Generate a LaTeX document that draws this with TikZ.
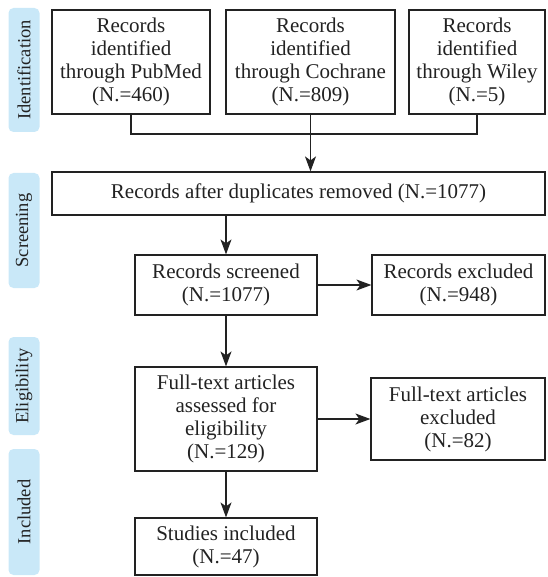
\documentclass[tikz,border=0pt]{standalone}
\usepackage{fontspec}
\setmainfont{Liberation Serif}
\usepackage{tikz}
\usetikzlibrary{arrows.meta,positioning,calc}
\definecolor{phaseblue}{HTML}{C9E8F8}
\definecolor{linegray}{HTML}{222222}
\tikzset{
  flowbox/.style={
    rectangle, draw=linegray, line width=1.2pt, inner sep=0pt,
    font=\fontsize{21}{23}\selectfont, align=center, text=linegray
  },
  flowarrow/.style={
    -{Stealth[length=15pt,width=11pt,inset=4pt]}, line width=1.2pt, color=linegray
  },
  flowline/.style={
    line width=1.2pt, color=linegray
  },
  phaselabel/.style={
    rectangle, rounded corners=5pt, fill=phaseblue, inner sep=0pt,
    minimum width=31pt, rotate=90,
    font=\fontsize{18.5}{20}\selectfont, text=linegray
  },
}

\begin{document}
\begin{tikzpicture}[x=1pt,y=1pt]
  \useasboundingbox (0,0) rectangle (547,-577);

  % Phase labels
  \node[phaselabel, minimum width=124pt, minimum height=31pt] (identification) at (24,-70) {Identification};
  \node[phaselabel, minimum width=115pt, minimum height=31pt] (screening) at (24,-230.5) {Screening};
  \node[phaselabel, minimum width=98pt, minimum height=31pt] (eligibility) at (24,-386) {Eligibility};
  \node[phaselabel, minimum width=126pt, minimum height=31pt] (included) at (24,-512) {Included};

  % Identification
  \node[flowbox, minimum width=158pt, minimum height=104pt] (pubmed) at (131,-62)
    {Records\\identified\\through PubMed\\(N.=460)};
  \node[flowbox, minimum width=169pt, minimum height=104pt] (cochrane) at (310.5,-62)
    {Records\\identified\\through Cochrane\\(N.=809)};
  \node[flowbox, minimum width=136pt, minimum height=104pt] (wiley) at (477,-62)
    {Records\\identified\\through Wiley\\(N.=5)};

  % Screening
  \node[flowbox, minimum width=493pt, minimum height=43pt] (dup) at (298.5,-193.5)
    {Records after duplicates removed (N.=1077)};
  \node[flowbox, minimum width=182pt, minimum height=60pt] (screened) at (226,-285)
    {Records screened\\(N.=1077)};
  \node[flowbox, minimum width=173pt, minimum height=60pt] (excluded) at (458.5,-285)
    {Records excluded\\(N.=948)};

  % Eligibility
  \node[flowbox, minimum width=182pt, minimum height=104pt] (fulltext) at (226,-419)
    {Full-text articles\\assessed for\\eligibility\\(N.=129)};
  \node[flowbox, minimum width=174pt, minimum height=82pt] (ftexcluded) at (458,-419)
    {Full-text articles\\excluded\\(N.=82)};

  % Included
  \node[flowbox, minimum width=182pt, minimum height=57pt] (studies) at (226,-546.5)
    {Studies included\\(N.=47)};

  % Connectors
  \coordinate (join) at (310.5,-134);
  \draw[flowline] (pubmed.south) |- (join) -| (wiley.south);
  \draw[flowarrow] (cochrane.south) -- (cochrane.south |- dup.north);
  \draw[flowarrow] (screened.north |- dup.south) -- (screened.north);
  \draw[flowarrow] (screened.east) -- (excluded.west);
  \draw[flowarrow] (screened.south) -- (fulltext.north);
  \draw[flowarrow] (fulltext.east) -- (ftexcluded.west);
  \draw[flowarrow] (fulltext.south) -- (studies.north);
\end{tikzpicture}
\end{document}
